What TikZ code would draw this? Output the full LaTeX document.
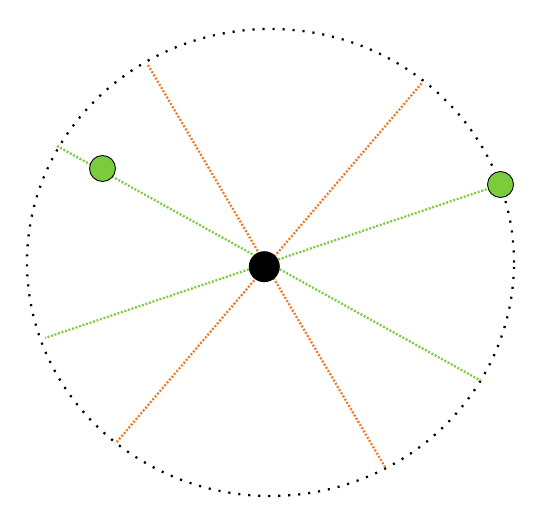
\documentclass[tikz,border=0pt]{standalone}
\usepackage{tikz}
\definecolor{spokeorange}{RGB}{236,122,40}
\definecolor{spokegreen}{RGB}{122,204,58}

\begin{document}
\begin{tikzpicture}[rim/.style={black, line width=1.3pt, dash pattern=on 1.2pt off 4.5pt},
	spoke/.style={line width=1.3pt, dash pattern=on 1.1pt off 1pt},
	bead/.style={circle, draw, fill=spokegreen, line width=0.5pt, minimum size=0.52cm, inner sep=0pt}]
	\useasboundingbox (-5.41,-5.03) rectangle (5.37,5.25);
	\draw[rim] (0,0) ellipse [x radius=4.87, y radius=4.67];
	% end points of the spokes on the rim
	\coordinate (oa1) at (-2.45,3.95);
	\coordinate (oa2) at (2.29,-4.09);
	\coordinate (ob1) at (3.02,3.58);
	\coordinate (ob2) at (-3.10,-3.62);
	\coordinate (ga1) at (-4.27,2.33);
	\coordinate (ga2) at (4.20,-2.36);
	\coordinate (gb1) at (4.60,1.56);
	\coordinate (gb2) at (-4.51,-1.51);
	\draw[spoke, spokeorange] (oa1) -- (oa2);
	\draw[spoke, spokeorange] (ob1) -- (ob2);
	\draw[spoke, spokegreen] (ga1) -- (ga2);
	\draw[spoke, spokegreen] (gb1) -- (gb2);
	\node[circle, fill=black, minimum size=0.62cm, inner sep=0pt] (hub) at (-0.124,-0.084) {};
	\node[bead] (p1) at (-3.36,1.88) {};
	\node[bead] (p2) at (gb1) {};
\end{tikzpicture}
\end{document}
